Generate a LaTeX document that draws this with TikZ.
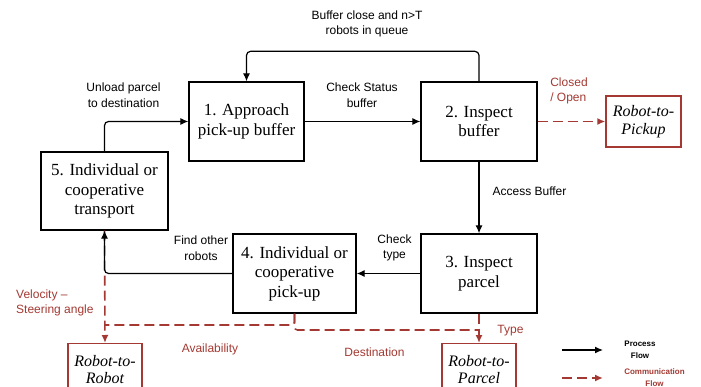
\documentclass[tikz,border=0pt]{standalone}
\usepackage{fontspec}
\setmainfont{Liberation Serif}
\newfontfamily\labfont{Liberation Sans}
\usetikzlibrary{arrows.meta}
\definecolor{commred}{RGB}{163,57,50}
\begin{document}
\begin{tikzpicture}[x=1pt,y=-1pt,
  stepbox/.style={draw,line width=1.3pt,align=center,inner sep=0pt,
    font=\fontsize{17}{19.5}\selectfont},
  linkbox/.style={draw=commred,line width=1.3pt,align=center,inner sep=0pt,
    minimum width=74pt,minimum height=52pt,
    font=\fontsize{16}{17.5}\selectfont\itshape},
  flow/.style={line width=1.2pt,rounded corners=4pt,-{Latex[length=8pt,width=7pt]}},
  comm/.style={draw=commred,line width=1.6pt,dash pattern=on 10pt off 5pt,
    rounded corners=3pt,-{Latex[length=8pt,width=7pt]}},
  commline/.style={draw=commred,line width=1.6pt,dash pattern=on 10pt off 5pt,
    rounded corners=3pt},
  lab/.style={align=center,inner sep=0pt,font=\labfont\fontsize{12}{15.5}\selectfont},
  redlab/.style={lab,text=commred},
  legend/.style={align=center,inner sep=0pt,font=\labfont\bfseries\fontsize{8}{12}\selectfont}
]
\useasboundingbox (0,0) rectangle (701,387);
\clip (0,0) rectangle (701,387);

% process steps
\node[stepbox,minimum width=115pt,minimum height=79pt] (s1) at (246.5,121.5) {1. Approach\\pick-up buffer};
\node[stepbox,minimum width=116pt,minimum height=79pt] (s2) at (479,121.5) {2. Inspect\\buffer};
\node[stepbox,minimum width=116pt,minimum height=79pt] (s3) at (479,273.5) {3. Inspect\\parcel};
\node[stepbox,minimum width=123pt,minimum height=79pt] (s4) at (294.5,273.5) {4. Individual or\\cooperative\\pick-up};
\node[stepbox,minimum width=127pt,minimum height=78pt] (s5) at (104.5,191) {5. Individual or\\cooperative\\transport};

% communication partners
\node[linkbox,minimum width=75pt,minimum height=51pt] (rpick) at (643.5,121.5) {Robot-to-\\Pickup};
\node[linkbox,anchor=north] (rrob) at (105,343) {Robot-to-\\Robot};
\node[linkbox,anchor=north] (rpar) at (479,343) {Robot-to-\\Parcel};

% junction points of the communication lines
\coordinate (jr) at (104.5,325);
\coordinate (jp) at (479,330);

% communication flow
\draw[comm] (s2.east) -- (rpick.west);
\draw[comm] (s5.south) -- (rrob.north);
\draw[commline] (s4.south) |- (jr);
\draw[comm] (s3.south) -- (rpar.north);
\draw[commline] (s4.south) |- (jp);

% process flow
\draw[flow] (s5.north) |- (s1.west);
\draw[flow] (s1.east) -- (s2.west);
\draw[flow] (s2.north) -- ++(0,-30) -| (s1.north);
\draw[flow] (s2.south) -- (s3.north);
\draw[flow] (s3.west) -- (s4.east);
\draw[flow] (s4.west) -| (s5.south);

% labels
\node[lab] (lbuf) at (367,24) {Buffer close and n>T\\robots in queue};
\node[lab] (lunl) at (123.5,95) {Unload parcel\\to destination};
\node[lab] (lchk) at (362,95) {Check Status\\buffer};
\node[lab] (lacc) at (529.5,191) {Access Buffer};
\node[lab] (ltyp) at (394.5,248) {Check\\type};
\node[lab] (lfnd) at (201,248) {Find other\\robots};
\node[redlab,align=left] (lclo) at (569,91) {Closed\\/ Open};
\node[redlab,align=left,anchor=west] (lvel) at (16,303) {Velocity –\\Steering angle};
\node[redlab] (lava) at (210,349) {Availability};
\node[redlab] (ldst) at (374.5,352) {Destination};
\node[redlab] (ltp) at (510.5,331) {Type};

% legend
\coordinate (la1) at (562,350);
\coordinate (lb1) at (603,350);
\coordinate (la2) at (562,378);
\coordinate (lb2) at (603,378);
\draw[flow] (la1) -- (lb1);
\draw[comm] (la2) -- (lb2);
\node[legend] (lgp) at (640,349.5) {Process\\Flow};
\node[legend,text=commred] (lgc) at (654.5,377.5) {Communication\\Flow};
\end{tikzpicture}
\end{document}
